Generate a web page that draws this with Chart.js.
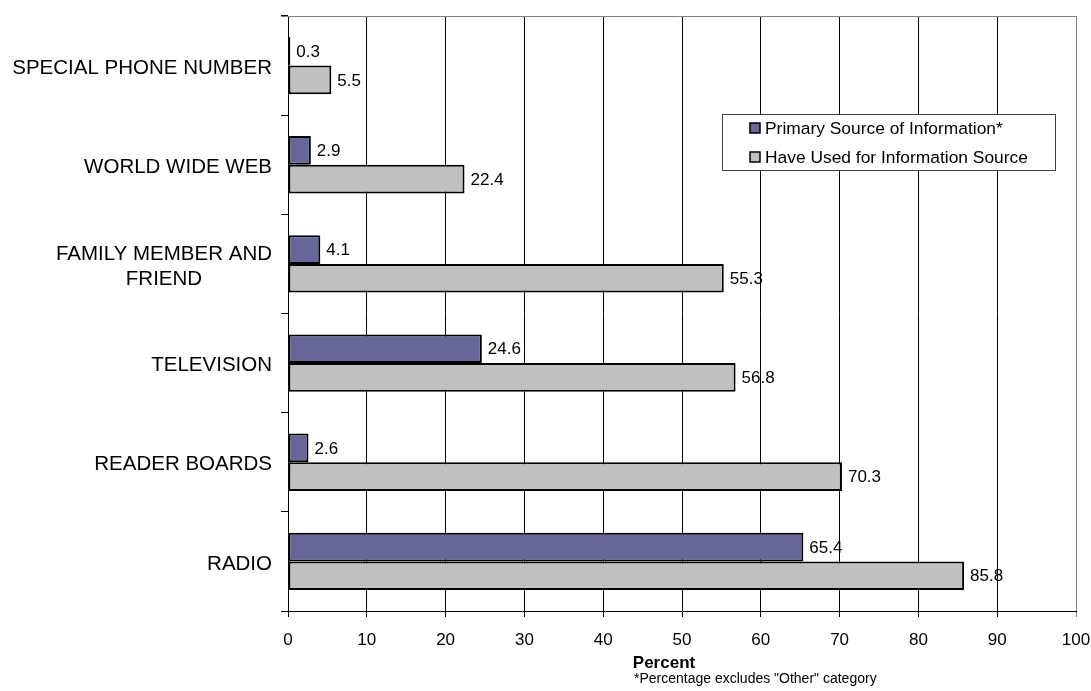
<!DOCTYPE html>
<html>
<head>
<meta charset="utf-8">
<title>Sources of Information</title>
<script src="https://cdn.jsdelivr.net/npm/chart.js@4/dist/chart.umd.min.js"></script>
<style>
  html, body { margin: 0; padding: 0; background: #ffffff; }
  #wrap { width: 1091px; height: 691px; position: relative; }
</style>
</head>
<body>
<div id="wrap"><canvas id="chart" width="1091" height="691"></canvas></div>
<script>
// Survey categories, listed top to bottom
const categories = [
  'SPECIAL PHONE NUMBER',
  'WORLD WIDE WEB',
  ['FAMILY MEMBER AND', 'FRIEND'],
  'TELEVISION',
  'READER BOARDS',
  'RADIO'
];

// Percent of respondents per category
const primarySource = [0.3, 2.9, 4.1, 24.6, 2.6, 65.4];
const haveUsed = [5.5, 22.4, 55.3, 56.8, 70.3, 85.8];

const seriesNames = ['Primary Source of Information*', 'Have Used for Information Source'];
const xTickValues = [0, 10, 20, 30, 40, 50, 60, 70, 80, 90, 100];
const axisTitle = 'Percent';
const footnote = '*Percentage excludes "Other" category';

const FONT = '"Liberation Sans", Arial, Helvetica, sans-serif';

// Value labels sit just right of each bar; drawn before the grid so grid lines cross them
const valueLabels = {
  id: 'valueLabels',
  beforeDraw(chart) {
    const ctx = chart.ctx;
    ctx.save();
    ctx.font = '17px ' + FONT;
    ctx.fillStyle = '#000';
    ctx.textAlign = 'left';
    ctx.textBaseline = 'middle';
    chart.data.datasets.forEach((ds, di) => {
      const meta = chart.getDatasetMeta(di);
      meta.data.forEach((bar, i) => {
        ctx.fillText(String(ds.data[i]), bar.x + 6, bar.y + 1);
      });
    });
    ctx.restore();
  }
};

// Category names: block right-aligned to the axis, lines centred within the block
const categoryLabels = {
  id: 'categoryLabels',
  afterDraw(chart) {
    const ctx = chart.ctx;
    const scale = chart.scales.y;
    const right = scale.right - 16;
    const lineH = 25;
    ctx.save();
    ctx.font = '20.5px ' + FONT;
    ctx.fillStyle = '#000';
    ctx.textBaseline = 'middle';
    scale.getLabels().forEach((label, i) => {
      const lines = Array.isArray(label) ? label : [label];
      const widths = lines.map(l => ctx.measureText(l).width);
      const blockW = Math.max(...widths);
      const cy = scale.getPixelForValue(i) + 2.5;
      const y0 = cy - (lines.length - 1) * lineH / 2;
      lines.forEach((line, k) => {
        ctx.textAlign = 'center';
        ctx.fillText(line, right - blockW / 2, y0 + k * lineH);
      });
    });
    ctx.restore();
  }
};

// Plot frame top edge, axis title, footnote and the boxed legend
const frameAndLegend = {
  id: 'frameAndLegend',
  afterDraw(chart) {
    const ctx = chart.ctx;
    const area = chart.chartArea;
    ctx.save();

    // top edge of the plot area
    ctx.strokeStyle = '#808080';
    ctx.lineWidth = 1;
    ctx.beginPath();
    ctx.moveTo(area.left - 7, Math.round(area.top) + 0.5);
    ctx.lineTo(area.right, Math.round(area.top) + 0.5);
    ctx.stroke();

    // axis title
    ctx.fillStyle = '#000';
    ctx.font = 'bold 17px ' + FONT;
    ctx.textAlign = 'center';
    ctx.textBaseline = 'alphabetic';
    ctx.fillText(axisTitle, 664, 668);

    // footnote
    ctx.font = '14px ' + FONT;
    ctx.textAlign = 'left';
    ctx.fillText(footnote, 634, 683);

    // legend box
    const box = { x: 722, y: 114, w: 333, h: 56 };
    ctx.fillStyle = '#ffffff';
    ctx.fillRect(box.x, box.y, box.w, box.h);
    ctx.strokeStyle = '#404040';
    ctx.lineWidth = 1;
    ctx.strokeRect(box.x + 0.5, box.y + 0.5, box.w, box.h);

    ctx.font = '17.4px ' + FONT;
    ctx.textBaseline = 'middle';
    const rows = [128, 157];
    chart.data.datasets.forEach((ds, i) => {
      const cy = rows[i];
      ctx.fillStyle = ds.backgroundColor;
      ctx.fillRect(750, cy - 5, 10, 10);
      ctx.strokeStyle = '#000';
      ctx.lineWidth = 1.5;
      ctx.strokeRect(750, cy - 5, 10, 10);
      ctx.fillStyle = '#000';
      ctx.textAlign = 'left';
      ctx.fillText(ds.label, 765, cy + 1);
    });
    ctx.restore();
  }
};

new Chart(document.getElementById('chart'), {
  type: 'bar',
  data: {
    labels: categories,
    datasets: [
      {
        label: seriesNames[0],
        data: primarySource,
        backgroundColor: '#666699',
        borderColor: '#000000',
        borderWidth: 2,
        borderSkipped: false
      },
      {
        label: seriesNames[1],
        data: haveUsed,
        backgroundColor: '#C0C0C0',
        borderColor: '#000000',
        borderWidth: 2,
        borderSkipped: false
      }
    ]
  },
  options: {
    indexAxis: 'y',
    responsive: false,
    devicePixelRatio: 1,
    animation: false,
    events: [],
    categoryPercentage: 0.578,
    barPercentage: 1.0,
    layout: { padding: { left: 0, right: 15, top: 16, bottom: 0 } },
    plugins: {
      legend: { display: false },
      tooltip: { enabled: false },
      title: { display: false }
    },
    scales: {
      x: {
        type: 'linear',
        min: 0,
        max: 100,
        afterBuildTicks(scale) {
          scale.ticks = xTickValues.map(v => ({ value: v }));
        },
        afterFit(scale) {
          scale.height = 80;
          scale.paddingLeft = 0;
          scale.paddingRight = 0;
        },
        ticks: {
          color: '#000',
          font: { family: FONT, size: 17 },
          padding: 13,
          maxRotation: 0,
          autoSkip: false
        },
        grid: {
          color: (c) => (c.tick && c.tick.value === 100 ? '#808080' : '#000000'),
          lineWidth: 1,
          drawTicks: true,
          tickLength: 6
        },
        border: { display: true, color: '#000000', width: 1 }
      },
      y: {
        type: 'category',
        afterFit(scale) {
          scale.width = 288;
          scale.paddingTop = 0;
          scale.paddingBottom = 0;
        },
        ticks: { display: false },
        grid: {
          offset: true,
          drawOnChartArea: false,
          drawTicks: true,
          tickLength: 7,
          color: '#000000',
          lineWidth: 1
        },
        border: { display: true, color: '#000000', width: 1 }
      }
    }
  },
  plugins: [valueLabels, categoryLabels, frameAndLegend]
});
</script>
</body>
</html>
